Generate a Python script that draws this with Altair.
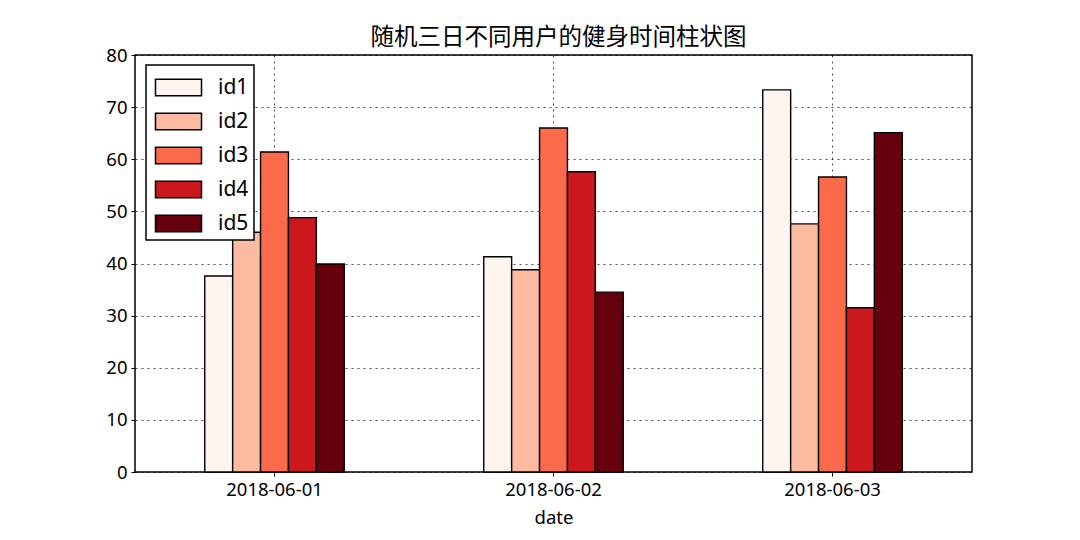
import altair as alt
import pandas as pd

dates = ["2018-06-01", "2018-06-02", "2018-06-03"]
ids = ["id1", "id2", "id3", "id4", "id5"]
id1 = [37.6, 41.3, 73.3]
id2 = [46.0, 38.8, 47.6]
id3 = [61.4, 66.0, 56.6]
id4 = [48.8, 57.6, 31.5]
id5 = [39.9, 34.5, 65.1]
colors = ["#fff5f0", "#fcbba1", "#fb6a4a", "#cb181d", "#67000d"]

series = [id1, id2, id3, id4, id5]
rows = []
for name, vals in zip(ids, series):
    for d, v in zip(dates, vals):
        rows.append({"date": d, "id": name, "value": v})
df = pd.DataFrame(rows)

cjk = "Noto Sans CJK SC"
font = "Noto Sans"
nbsp = "\u00a0"

chart = alt.Chart(df).mark_bar(stroke="black", strokeWidth=1.4).encode(
    x=alt.X("date:N", sort=dates, title="date",
            scale=alt.Scale(paddingInner=0.5, paddingOuter=0.25),
            axis=alt.Axis(labelAngle=0, grid=True, bandPosition=0.5,
                          gridDash=[2, 4], gridColor="#000000", gridOpacity=0.7,
                          labelFontSize=18.5, titleFontSize=18.5, labelFont=font, titleFont=font,
                          titleFontWeight="normal",
                          labelColor="#000", titleColor="#000", tickColor="#000",
                          domain=False, tickSize=4, labelPadding=4, titlePadding=10)),
    xOffset=alt.XOffset("id:N", sort=ids),
    y=alt.Y("value:Q", title=None,
            scale=alt.Scale(domain=[0, 80], nice=False),
            axis=alt.Axis(values=list(range(0, 81, 10)), grid=True,
                          gridDash=[2, 4], gridColor="#000000", gridOpacity=0.7,
                          labelFontSize=18.5, labelFont=font, labelColor="#000",
                          tickColor="#000", domain=False, tickSize=4, labelPadding=4)),
    color=alt.Color("id:N", sort=ids,
                    scale=alt.Scale(domain=ids, range=colors),
                    legend=alt.Legend(title=None, orient="none", legendX=11, legendY=10,
                                      symbolType="M-1.4,-0.5H1.4V0.5H-1.4Z",
                                      symbolSize=1080, symbolStrokeColor="black",
                                      symbolStrokeWidth=1.5, symbolOffset=10,
                                      labelFontSize=21, labelFont=font,
                                      labelExpr="datum.label + '" + nbsp + "'",
                                      labelColor="#000", labelOffset=22,
                                      rowPadding=5, padding=5,
                                      strokeColor="black",
                                      fillColor="white")),
).properties(
    width=837, height=417,
    title=alt.TitleParams("随机三日不同用户的健身时间柱状图", font=cjk, fontSize=23.5,
                          fontWeight="normal", color="#000", offset=5, dy=8, dx=5),
    autosize=alt.AutoSizeParams(type="none"),
    padding={"left": 127, "top": 47, "right": 100, "bottom": 60},
).configure(background="white").configure_view(
    stroke="black", strokeWidth=1.5
).configure_legend(strokeWidth=1.5)

chart.save("out.html", embed_options={"renderer": "svg", "actions": False})
